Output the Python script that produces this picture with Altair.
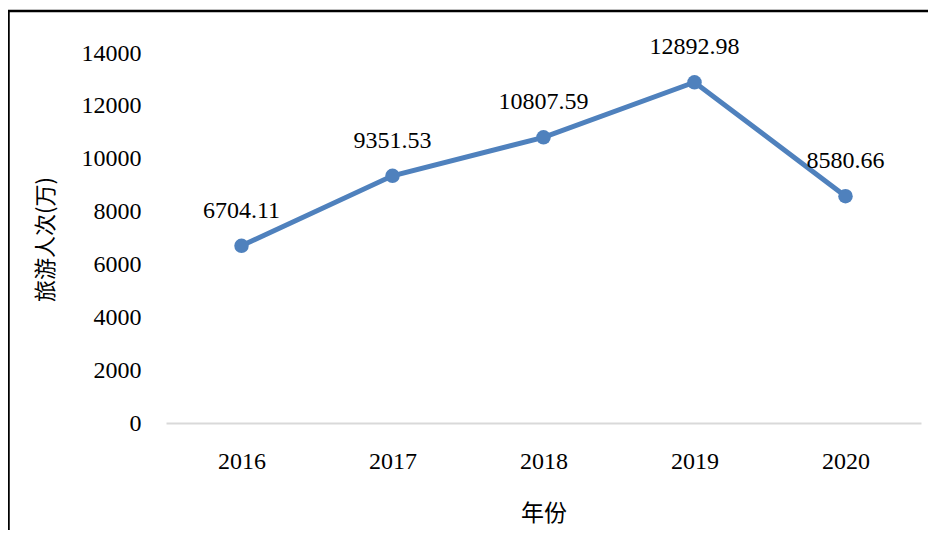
import altair as alt
import pandas as pd

years = ["2016", "2017", "2018", "2019", "2020"]
visits = [6704.11, 9351.53, 10807.59, 12892.98, 8580.66]
labels = ["6704.11", "9351.53", "10807.59", "12892.98", "8580.66"]

df = pd.DataFrame({"year": years, "visits": visits, "label": labels})

W, H = 755, 370
PL, PT = 158, 45
COLOR = "#4f81bd"
SERIF = "Liberation Serif"

x_enc = alt.X("year:O", title="年份",
              scale=alt.Scale(type="point", padding=0.5),
              axis=alt.Axis(labelAngle=0, ticks=False, domainColor="#d9d9d9",
                            domainWidth=2, labelFont=SERIF,
                            labelFontSize=24, labelColor="#000000", labelPadding=26,
                            titleFont="Noto Sans CJK SC", titleFontSize=23,
                            titleFontWeight="normal", titleColor="#000000",
                            titleX=W / 2, titleY=90, titleBaseline="middle"))
y_enc = alt.Y("visits:Q", title="旅游人次(万)",
              scale=alt.Scale(domain=[0, 14000], nice=False),
              axis=alt.Axis(values=list(range(0, 14001, 2000)), format="d", grid=False,
                            ticks=False, domain=False, labelFont=SERIF, labelFontSize=24,
                            labelColor="#000000", labelPadding=25,
                            titleFont="Noto Sans CJK SC", titleFontSize=22,
                            titleFontWeight="normal", titleColor="#000000",
                            titleX=-121, titleY=186, titleAngle=-90,
                            titleBaseline="middle", titleAlign="center"))

base = alt.Chart(df)
line = base.mark_line(color=COLOR, strokeWidth=5).encode(x=x_enc, y=y_enc)
pts = base.mark_point(filled=True, color=COLOR, size=210, opacity=1).encode(x="year:O", y="visits:Q")
txt = base.mark_text(font=SERIF, fontSize=24, color="#000000",
                     dy=-35, baseline="middle", align="center").encode(
    x="year:O", y="visits:Q", text="label:N")

top_border = alt.Chart(df.head(1)).mark_rule(color="#000000", strokeWidth=2.5).encode(
    x=alt.value(-PL), x2=alt.value(936 - 8 - PL), y=alt.value(11 - 8 - PT))
left_border = alt.Chart(df.head(1)).mark_rule(color="#000000", strokeWidth=2.5).encode(
    x=alt.value(8.5 - 8 - PL), y=alt.value(11 - 8 - PT), y2=alt.value(538 - 8 - PT))

chart = alt.layer(line, pts, txt, top_border, left_border).properties(
    width=W, height=H,
    background="#ffffff",
    autosize=alt.AutoSizeParams(type="none"),
    padding={"left": PL, "top": PT, "right": 936 - 16 - PL - W, "bottom": 538 - 16 - PT - H},
).configure_view(stroke=None)

chart.save("out.html", embed_options={"renderer": "svg", "actions": False})
